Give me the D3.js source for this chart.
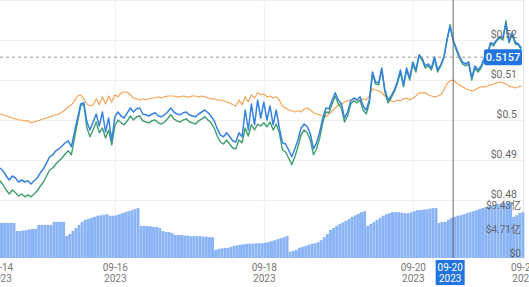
<!DOCTYPE html>
<html><head><meta charset="utf-8">
<script src="https://cdn.jsdelivr.net/npm/d3@7"></script>
<style>
html,body{margin:0;padding:0;background:#fff;overflow:hidden}
svg{display:block;font-family:Roboto,"Noto Sans",sans-serif}
</style></head><body>
<svg id="c" width="529" height="287"></svg>
<script>
// ---- data (hourly samples) ----
const startTime = "2023-09-14T11:00:00";
const endTime = "2023-09-21T11:30:00";
const stepHours = 1;

const blueValues = [
0.4880,0.4873,0.4860,0.4850,0.4860,0.4855,0.4845,0.4850,0.4845,0.4848,
0.4840,0.4848,0.4855,0.4868,0.4878,0.4893,0.4908,0.4913,0.4923,0.4928,
0.4935,0.4943,0.4948,0.4933,0.4970,0.5005,0.5040,0.5043,0.4995,0.4975,
0.4995,0.5015,0.4985,0.5020,0.4970,0.5005,0.4948,0.5008,0.5020,0.5010,
0.5005,0.5018,0.5030,0.5020,0.5028,0.5030,0.5015,0.5013,0.5010,0.5015,
0.5018,0.5010,0.5008,0.5013,0.5020,0.5030,0.5020,0.5015,0.5013,0.5018,
0.5020,0.5013,0.5010,0.5008,0.5015,0.5020,0.5025,0.5018,0.5010,0.4998,
0.4978,0.4963,0.4958,0.4968,0.4958,0.4948,0.4945,0.4968,0.4958,0.5025,
0.4975,0.5040,0.4988,0.5050,0.5005,0.5045,0.5000,0.5035,0.4988,0.5025,
0.4980,0.4943,0.4940,0.4925,0.4908,0.4928,0.4950,0.4980,0.4990,0.4983,
0.4965,0.4928,0.4943,0.4970,0.5005,0.5030,0.5028,0.5050,0.5068,0.5050,
0.5040,0.5005,0.5020,0.5048,0.5055,0.5050,0.5058,0.5035,0.5025,0.5050,
0.5120,0.5095,0.5093,0.5130,0.5075,0.5050,0.5060,0.5075,0.5095,0.5125,
0.5088,0.5130,0.5105,0.5145,0.5125,0.5163,0.5155,0.5135,0.5140,0.5130,
0.5158,0.5125,0.5138,0.5158,0.5200,0.5235,0.5200,0.5180,0.5160,0.5145,
0.5140,0.5145,0.5105,0.5135,0.5125,0.5135,0.5155,0.5163,0.5193,0.5190,
0.5200,0.5208,0.5205,0.5240,0.5195,0.5218,0.5195,0.5190,0.5180];

const greenValues = [
0.4848,0.4838,0.4825,0.4815,0.4825,0.4818,0.4810,0.4815,0.4808,0.4813,
0.4808,0.4815,0.4823,0.4835,0.4845,0.4860,0.4875,0.4880,0.4890,0.4898,
0.4905,0.4915,0.4923,0.4913,0.4955,0.4995,0.5035,0.5040,0.4980,0.4958,
0.4975,0.4995,0.4968,0.4980,0.4955,0.4975,0.4938,0.4985,0.5000,0.4993,
0.4988,0.4998,0.5010,0.5000,0.5008,0.5010,0.4998,0.4995,0.4993,0.4998,
0.5000,0.4993,0.4990,0.4995,0.5003,0.5013,0.5003,0.4998,0.4995,0.5000,
0.5003,0.4995,0.4993,0.4990,0.4998,0.5003,0.5008,0.5000,0.4993,0.4980,
0.4960,0.4945,0.4940,0.4950,0.4940,0.4930,0.4928,0.4950,0.4943,0.4980,
0.4960,0.4988,0.4975,0.4990,0.4985,0.4993,0.4983,0.4995,0.4975,0.4990,
0.4968,0.4925,0.4920,0.4905,0.4888,0.4908,0.4933,0.4963,0.4975,0.4968,
0.4950,0.4913,0.4928,0.4955,0.4993,0.5020,0.5018,0.5040,0.5060,0.5040,
0.5030,0.4995,0.5010,0.5040,0.5048,0.5043,0.5050,0.5025,0.5015,0.5043,
0.5115,0.5090,0.5088,0.5125,0.5070,0.5043,0.5055,0.5070,0.5090,0.5120,
0.5083,0.5125,0.5100,0.5140,0.5120,0.5160,0.5150,0.5130,0.5135,0.5125,
0.5153,0.5120,0.5135,0.5155,0.5198,0.5238,0.5198,0.5175,0.5155,0.5140,
0.5135,0.5140,0.5100,0.5130,0.5120,0.5130,0.5150,0.5160,0.5190,0.5185,
0.5198,0.5205,0.5200,0.5248,0.5193,0.5215,0.5190,0.5188,0.5175];

const orangeValues = [
0.5015,0.5013,0.5010,0.5008,0.5005,0.5003,0.5000,0.5000,0.4998,0.4998,
0.4993,0.4995,0.4998,0.5000,0.5003,0.5005,0.5008,0.5010,0.5013,0.5015,
0.5020,0.5025,0.5033,0.5038,0.5048,0.5060,0.5063,0.5053,0.5040,0.5035,
0.5038,0.5053,0.5038,0.5058,0.5040,0.5060,0.5045,0.5063,0.5058,0.5068,
0.5070,0.5070,0.5063,0.5055,0.5053,0.5050,0.5053,0.5050,0.5053,0.5055,
0.5055,0.5058,0.5055,0.5058,0.5060,0.5060,0.5060,0.5058,0.5058,0.5060,
0.5058,0.5058,0.5060,0.5060,0.5058,0.5060,0.5058,0.5055,0.5053,0.5053,
0.5050,0.5050,0.5048,0.5045,0.5043,0.5038,0.5035,0.5050,0.5038,0.5058,
0.5045,0.5063,0.5055,0.5068,0.5063,0.5065,0.5058,0.5060,0.5055,0.5058,
0.5050,0.5035,0.5030,0.5025,0.5023,0.5020,0.5023,0.5020,0.5028,0.5030,
0.5025,0.5018,0.5015,0.5013,0.5010,0.5008,0.5015,0.5023,0.5030,0.5038,
0.5040,0.5045,0.5048,0.5050,0.5053,0.5050,0.5048,0.5053,0.5050,0.5060,
0.5078,0.5075,0.5073,0.5068,0.5060,0.5050,0.5048,0.5045,0.5050,0.5048,
0.5053,0.5055,0.5050,0.5055,0.5060,0.5068,0.5068,0.5068,0.5063,0.5060,
0.5058,0.5060,0.5063,0.5075,0.5090,0.5098,0.5100,0.5093,0.5088,0.5083,
0.5078,0.5075,0.5073,0.5075,0.5080,0.5083,0.5083,0.5085,0.5088,0.5090,
0.5093,0.5095,0.5093,0.5090,0.5085,0.5083,0.5080,0.5083,0.5085];

// volume in 亿 USD
const volumeValues = [
6.9,6.9,6.9,6.9,6.9,5.3,5.3,5.4,5.5,5.6,
5.7,5.7,6.5,6.5,6.5,6.5,6.5,7.1,7.1,7.1,
7.1,4.3,4.7,5.3,5.9,6.5,7.1,7.5,7.7,7.9,
8.1,8.3,8.4,8.5,8.6,8.3,8.3,8.4,8.6,8.8,
9.0,9.2,9.4,9.6,9.8,6.3,6.3,6.3,6.2,6.1,
6.1,5.9,5.3,5.1,5.1,4.9,4.5,4.5,4.5,4.4,
4.4,4.3,4.3,4.3,4.3,4.2,4.2,4.1,4.1,1.6,
1.8,1.9,2.0,2.0,2.2,2.4,2.5,2.6,2.7,2.8,
2.8,2.8,2.9,2.9,2.9,3.0,3.1,3.3,3.5,3.7,
3.9,4.1,4.3,1.2,1.4,1.6,2.0,2.2,2.4,2.6,
2.8,2.9,3.1,3.5,4.1,4.7,5.5,5.9,6.3,6.7,
7.0,7.3,7.7,8.1,8.4,8.7,9.0,9.2,6.3,6.7,
7.1,7.5,7.9,8.3,8.6,8.8,9.0,9.0,9.0,8.9,
8.8,8.8,9.0,9.2,9.4,9.4,9.5,9.6,9.7,9.8,
9.8,6.9,7.1,7.1,7.5,7.9,8.1,8.3,8.4,8.6,
8.8,9.0,9.2,9.4,9.6,9.8,10.0,10.2,10.3,10.4,
10.6,10.7,10.8,10.9,11.0,8.1,8.4,8.8,9.0];

const priceTicks = [0.48, 0.49, 0.50, 0.51, 0.52];
const priceTickLabels = ["$0.48", "$0.49", "$0.5", "$0.51", "$0.52"];
const priceGridTicks = [0.48, 0.49, 0.50, 0.51, 0.52, 0.53];
const volumeTicks = [0, 4.71, 9.43];
const volumeTickLabels = ["$0", "$4.71亿", "$9.43亿"];
const dateTicks = ["2023-09-14T11:00:00", "2023-09-16T00:00:00", "2023-09-18T00:00:00", "2023-09-20T00:00:00", "2023-09-21T11:30:00"];
const crosshairTime = "2023-09-20T13:00:00";
const crosshairPrice = 0.5157;

// ---- layout ----
const plotRight = 523, priceTop = 0, priceBottom = 200, volBottom = 258;

const parse = s => new Date(s);
const t0 = parse(startTime);
const timeAt = i => new Date(t0.getTime() + i * stepHours * 3600e3);

const x = d3.scaleTime().domain([t0, parse(endTime)]).range([0, plotRight]);
const yP = d3.scaleLinear().domain([0.48, 0.53]).range([priceBottom, priceTop]);
const yV = d3.scaleLinear().domain([0, 9.43]).range([volBottom, 210]);

const svg = d3.select("#c");

// vertical grid
const vgrid = svg.append("g")
  .call(d3.axisBottom(x).tickValues(dateTicks.slice(1, 4).map(parse)).tickSize(volBottom).tickFormat(""));
vgrid.select(".domain").remove();
vgrid.selectAll("line").attr("stroke", "#efefef");

// horizontal grid (price)
const hgrid = svg.append("g")
  .call(d3.axisRight(yP).tickValues(priceGridTicks).tickSize(plotRight).tickFormat(""));
hgrid.select(".domain").remove();
hgrid.selectAll("line").attr("stroke", "#efefef");

// right border
svg.append("line").attr("x1", plotRight + 0.5).attr("x2", plotRight + 0.5)
  .attr("y1", 0).attr("y2", volBottom).attr("stroke", "#e6e6e6");

// volume bars
const bw = x(timeAt(1)) - x(timeAt(0));
svg.append("g").selectAll("rect").data(volumeValues).join("rect")
  .attr("x", (d, i) => x(timeAt(i)))
  .attr("width", bw - 0.15)
  .attr("y", d => yV(d))
  .attr("height", d => yV(0) - yV(d))
  .attr("fill", "#8ab4f6");

// price lines
svg.append("clipPath").attr("id", "pc").append("rect")
  .attr("x", 0).attr("y", 0).attr("width", plotRight).attr("height", priceBottom);
const line = d3.line().x((d, i) => x(timeAt(i))).y(d => yP(d));
const lines = svg.append("g").attr("clip-path", "url(#pc)").attr("fill", "none")
  .attr("stroke-linejoin", "round");
lines.append("path").attr("d", line(orangeValues)).attr("stroke", "#f6a458").attr("stroke-width", 1.2);
lines.append("path").attr("d", line(greenValues)).attr("stroke", "#3f9e6e").attr("stroke-width", 1.4);
lines.append("path").attr("d", line(blueValues)).attr("stroke", "#3582e0").attr("stroke-width", 1.5);

// price axis labels (inside, right)
const pa = svg.append("g").attr("transform", `translate(517,0)`)
  .call(d3.axisLeft(yP).tickValues(priceTicks).tickSize(0).tickPadding(0)
    .tickFormat((d, i) => priceTickLabels[i]));
pa.select(".domain").remove();
pa.selectAll("text").attr("y", -3).attr("dy", 0).attr("fill", "#666")
  .style("font-size", "10.5px").style("font-family", "Roboto, 'Noto Sans', sans-serif");

// volume axis labels
const va = svg.append("g").attr("transform", `translate(521,0)`)
  .call(d3.axisLeft(yV).tickValues(volumeTicks).tickSize(0).tickPadding(0)
    .tickFormat((d, i) => volumeTickLabels[i]));
va.select(".domain").remove();
va.selectAll("text").attr("y", -1.8).attr("dy", 0).attr("fill", "#666")
  .style("font-size", "10px").style("font-family", "Roboto, 'Noto Sans CJK SC', sans-serif");

// crosshair
const cx = x(parse(crosshairTime));
svg.append("line").attr("x1", cx).attr("x2", cx).attr("y1", 0).attr("y2", volBottom)
  .attr("stroke", "#666").attr("stroke-width", 1);
const cy = yP(crosshairPrice);
svg.append("line").attr("x1", 0).attr("x2", 485).attr("y1", cy).attr("y2", cy)
  .attr("stroke", "#999").attr("stroke-dasharray", "3,3");
svg.append("rect").attr("x", 484).attr("y", cy - 8).attr("width", 38).attr("height", 16)
  .attr("rx", 2).attr("fill", "#2274e0");
svg.append("text").attr("x", 503).attr("y", cy + 4).attr("text-anchor", "middle")
  .attr("fill", "#fff").style("font-size", "11px").style("font-weight", "500")
  .text(d3.format(".4f")(crosshairPrice));

// x axis
const fmtMD = d3.timeFormat("%m-%d"), fmtY = d3.timeFormat("%Y");
const xa = svg.append("g").attr("transform", `translate(0,${volBottom})`)
  .call(d3.axisBottom(x).tickValues(dateTicks.map(parse)).tickSize(0).tickFormat(fmtMD));
xa.select(".domain").remove();
xa.selectAll("text").each(function(d) {
  const t = d3.select(this);
  t.text(null).attr("y", 0).attr("dy", 0).attr("fill", "#777")
    .style("font-size", "10px").style("font-family", "Roboto, 'Noto Sans', sans-serif");
  t.append("tspan").attr("x", 0).attr("dy", 13).text(fmtMD(d));
  t.append("tspan").attr("x", 0).attr("dy", 11).text(fmtY(d));
});

// crosshair date label
const ct = parse(crosshairTime);
const bx = cx - 3;
svg.append("rect").attr("x", bx - 14.5).attr("y", 260).attr("width", 29).attr("height", 25)
  .attr("fill", "#2274e0");
const ctext = svg.append("text").attr("text-anchor", "middle").attr("fill", "#fff")
  .style("font-size", "10px");
ctext.append("tspan").attr("x", bx).attr("y", 271).text(fmtMD(ct));
ctext.append("tspan").attr("x", bx).attr("y", 282).text(fmtY(ct));
</script>
</body></html>
